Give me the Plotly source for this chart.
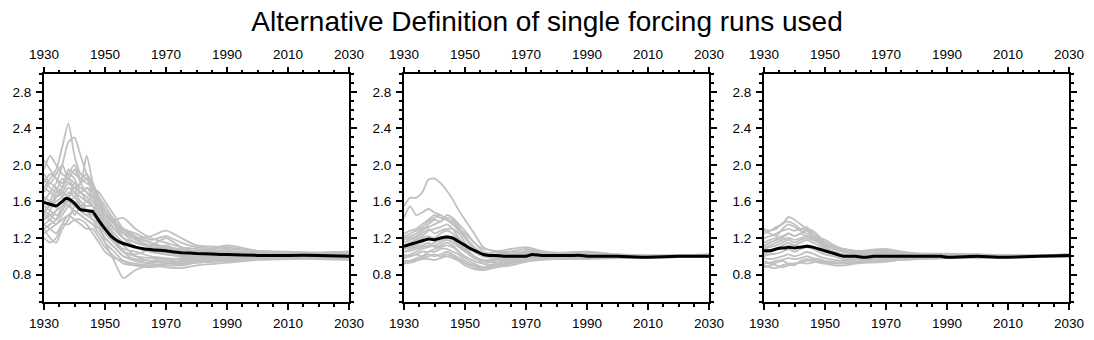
import plotly.graph_objects as go

TITLE = "Alternative Definition of single forcing runs used"
X_TICKS = [1930, 1950, 1970, 1990, 2010, 2030]
Y_TICKS = [0.8, 1.2, 1.6, 2.0, 2.4, 2.8]

MEMBER_YEARS = [1930, 1932, 1934, 1936, 1938, 1940, 1942, 1944, 1946, 1948, 1950, 1953,
                1956, 1960, 1965, 1970, 1975, 1980, 1990, 2000, 2010, 2020, 2030]

PANEL1_MEMBERS = [
    [1.75, 1.85, 1.95, 2.20, 2.45, 2.10, 1.90, 1.85, 1.70, 1.55, 1.40, 1.25, 1.15, 1.10, 1.05, 1.02, 1.00, 0.99, 1.00, 1.00, 1.01, 1.00, 1.00],
    [1.60, 1.70, 1.80, 2.00, 2.25, 2.30, 2.10, 1.90, 1.75, 1.60, 1.45, 1.30, 1.20, 1.15, 1.10, 1.08, 1.05, 1.04, 1.03, 1.02, 1.02, 1.01, 1.01],
    [1.95, 2.10, 2.00, 1.90, 1.85, 1.75, 1.80, 2.10, 1.80, 1.60, 1.50, 1.35, 1.25, 1.20, 1.22, 1.28, 1.20, 1.12, 1.10, 1.05, 1.04, 1.03, 1.04],
    [2.05, 1.95, 1.85, 1.80, 1.90, 1.85, 1.70, 1.75, 1.65, 1.50, 1.35, 1.20, 1.05, 1.00, 0.98, 0.97, 0.98, 1.00, 1.02, 1.02, 1.03, 1.04, 1.05],
    [1.40, 1.45, 1.50, 1.55, 1.70, 1.65, 1.55, 1.50, 1.45, 1.35, 1.15, 0.95, 0.76, 0.85, 0.90, 0.92, 0.95, 0.97, 0.98, 0.99, 1.00, 0.99, 0.98],
    [1.20, 1.15, 1.20, 1.35, 1.45, 1.50, 1.45, 1.40, 1.35, 1.25, 1.15, 1.05, 0.95, 0.90, 0.90, 0.88, 0.87, 0.90, 0.93, 0.96, 0.97, 0.97, 0.96],
    [1.30, 1.20, 1.15, 1.30, 1.40, 1.55, 1.60, 1.50, 1.40, 1.30, 1.20, 1.10, 1.00, 0.95, 0.92, 0.90, 0.90, 0.93, 0.95, 0.97, 0.98, 0.98, 0.97],
    [1.50, 1.55, 1.60, 1.65, 1.75, 1.70, 1.60, 1.55, 1.55, 1.45, 1.35, 1.25, 1.15, 1.10, 1.05, 1.02, 1.00, 1.00, 1.01, 1.01, 1.00, 1.00, 1.00],
    [1.70, 1.80, 1.75, 1.70, 1.65, 1.80, 1.75, 1.70, 1.60, 1.50, 1.40, 1.30, 1.25, 1.20, 1.15, 1.10, 1.08, 1.06, 1.05, 1.03, 1.02, 1.02, 1.02],
    [1.45, 1.40, 1.35, 1.45, 1.55, 1.60, 1.50, 1.45, 1.50, 1.55, 1.45, 1.40, 1.42, 1.30, 1.20, 1.15, 1.10, 1.08, 1.06, 1.04, 1.03, 1.02, 1.02],
    [1.65, 1.60, 1.55, 1.60, 1.65, 1.70, 1.65, 1.60, 1.65, 1.60, 1.50, 1.35, 1.20, 1.10, 1.05, 1.02, 1.01, 1.00, 1.00, 1.00, 1.00, 1.00, 0.99],
    [1.35, 1.40, 1.50, 1.60, 1.55, 1.50, 1.45, 1.40, 1.35, 1.30, 1.20, 1.10, 1.00, 0.97, 0.95, 0.93, 0.92, 0.94, 0.96, 0.97, 0.98, 0.99, 0.98],
    [1.85, 1.75, 1.70, 1.75, 1.95, 1.90, 1.85, 1.80, 1.75, 1.70, 1.60, 1.45, 1.30, 1.20, 1.10, 1.05, 1.03, 1.02, 1.02, 1.01, 1.01, 1.01, 1.01],
    [1.55, 1.50, 1.45, 1.50, 1.60, 1.55, 1.50, 1.45, 1.40, 1.35, 1.25, 1.15, 1.08, 1.05, 1.00, 0.98, 0.97, 0.98, 0.99, 1.00, 1.00, 1.00, 1.00],
    [1.25, 1.30, 1.35, 1.40, 1.45, 1.40, 1.35, 1.30, 1.30, 1.20, 1.10, 1.00, 0.92, 0.90, 0.88, 0.90, 0.91, 0.93, 0.95, 0.97, 0.97, 0.98, 0.97],
    [1.75, 1.70, 1.65, 1.70, 1.80, 1.75, 1.70, 1.75, 1.70, 1.60, 1.45, 1.30, 1.20, 1.10, 1.05, 1.04, 1.03, 1.02, 1.01, 1.01, 1.01, 1.01, 1.00],
    [1.40, 1.50, 1.65, 1.75, 1.85, 1.80, 1.70, 1.65, 1.55, 1.45, 1.30, 1.15, 1.05, 1.02, 1.08, 1.12, 1.05, 1.02, 1.04, 1.02, 1.03, 1.02, 1.03],
    [1.90, 1.80, 1.90, 2.00, 1.85, 1.95, 1.80, 1.70, 1.65, 1.55, 1.45, 1.38, 1.30, 1.25, 1.18, 1.22, 1.15, 1.10, 1.08, 1.06, 1.05, 1.04, 1.05],
    [1.30, 1.35, 1.40, 1.55, 1.60, 1.45, 1.55, 1.50, 1.45, 1.40, 1.30, 1.20, 1.12, 1.00, 0.95, 0.97, 0.93, 0.96, 0.98, 0.99, 0.98, 0.99, 0.99],
    [1.60, 1.55, 1.70, 1.85, 1.80, 1.75, 1.80, 1.85, 1.75, 1.65, 1.50, 1.38, 1.25, 1.15, 1.12, 1.20, 1.10, 1.05, 1.12, 1.06, 1.04, 1.03, 1.03],
    [1.50, 1.45, 1.40, 1.50, 1.65, 1.75, 1.55, 1.60, 1.55, 1.45, 1.40, 1.20, 1.05, 0.95, 0.93, 0.95, 0.94, 0.96, 0.97, 0.98, 0.99, 0.99, 0.98],
    [1.45, 1.60, 1.75, 1.65, 1.60, 1.65, 1.70, 1.60, 1.55, 1.50, 1.45, 1.35, 1.30, 1.22, 1.15, 1.08, 1.06, 1.04, 1.03, 1.02, 1.01, 1.01, 1.02],
    [1.80, 1.90, 1.85, 1.75, 1.90, 2.00, 1.85, 1.90, 1.80, 1.65, 1.55, 1.40, 1.28, 1.18, 1.12, 1.10, 1.07, 1.05, 1.04, 1.03, 1.02, 1.02, 1.01],
    [1.35, 1.30, 1.25, 1.35, 1.35, 1.40, 1.40, 1.35, 1.25, 1.15, 1.05, 0.98, 0.95, 0.92, 0.90, 0.92, 0.95, 0.95, 0.97, 0.98, 0.98, 0.98, 0.98],
]

PANEL2_MEMBERS = [
    [1.55, 1.64, 1.64, 1.70, 1.84, 1.85, 1.80, 1.72, 1.62, 1.50, 1.40, 1.25, 1.10, 1.05, 1.02, 1.02, 1.01, 1.00, 1.00, 1.00, 1.00, 1.00, 1.00],
    [1.42, 1.55, 1.45, 1.48, 1.52, 1.48, 1.45, 1.40, 1.35, 1.28, 1.20, 1.10, 1.02, 1.00, 1.00, 1.01, 1.00, 1.00, 1.00, 1.00, 1.00, 1.00, 1.00],
    [1.25, 1.28, 1.30, 1.35, 1.40, 1.45, 1.42, 1.40, 1.35, 1.30, 1.25, 1.15, 1.05, 1.02, 1.05, 1.08, 1.05, 1.03, 1.02, 1.01, 1.00, 1.00, 1.01],
    [1.20, 1.22, 1.25, 1.30, 1.32, 1.35, 1.38, 1.42, 1.40, 1.32, 1.22, 1.10, 1.00, 0.98, 1.00, 1.06, 1.04, 1.02, 1.04, 1.01, 1.00, 1.00, 1.00],
    [1.10, 1.12, 1.15, 1.20, 1.22, 1.20, 1.25, 1.28, 1.25, 1.18, 1.10, 1.00, 0.92, 0.90, 0.95, 1.00, 1.01, 1.02, 1.00, 1.00, 0.99, 1.00, 1.00],
    [0.95, 0.95, 0.98, 1.00, 1.02, 1.00, 1.02, 1.05, 1.02, 0.98, 0.92, 0.88, 0.85, 0.88, 0.92, 0.95, 0.97, 0.98, 0.99, 0.99, 0.99, 0.99, 0.99],
    [0.92, 0.93, 0.95, 0.97, 0.97, 0.96, 0.98, 1.00, 0.98, 0.95, 0.90, 0.86, 0.85, 0.90, 0.93, 0.96, 0.98, 0.98, 0.98, 0.98, 0.99, 0.99, 0.99],
    [1.05, 1.08, 1.10, 1.12, 1.15, 1.10, 1.12, 1.15, 1.12, 1.05, 1.00, 0.95, 0.92, 0.95, 0.97, 1.00, 1.00, 1.00, 1.01, 1.00, 1.00, 1.00, 1.00],
    [1.00, 1.02, 1.05, 1.08, 1.10, 1.12, 1.15, 1.18, 1.15, 1.10, 1.05, 0.98, 0.95, 0.97, 1.00, 1.02, 1.02, 1.01, 1.02, 1.00, 1.00, 1.00, 1.00],
    [1.15, 1.18, 1.20, 1.25, 1.30, 1.25, 1.28, 1.30, 1.30, 1.25, 1.15, 1.05, 1.00, 1.00, 1.02, 1.03, 1.03, 1.02, 1.03, 1.01, 1.00, 1.01, 1.01],
    [1.08, 1.10, 1.12, 1.15, 1.20, 1.18, 1.20, 1.22, 1.20, 1.15, 1.08, 1.00, 0.96, 0.96, 0.98, 1.00, 1.00, 0.99, 1.00, 0.99, 0.99, 1.00, 1.00],
    [1.12, 1.15, 1.18, 1.22, 1.28, 1.30, 1.32, 1.35, 1.30, 1.20, 1.12, 1.05, 1.02, 1.05, 1.08, 1.10, 1.06, 1.04, 1.05, 1.02, 1.01, 1.01, 1.02],
    [1.02, 1.00, 1.02, 1.05, 1.05, 1.08, 1.10, 1.12, 1.10, 1.05, 0.98, 0.92, 0.88, 0.90, 0.94, 0.97, 0.98, 0.99, 0.98, 0.99, 0.99, 0.99, 1.00],
    [1.18, 1.20, 1.22, 1.28, 1.35, 1.40, 1.38, 1.45, 1.42, 1.35, 1.28, 1.15, 1.08, 1.06, 1.05, 1.04, 1.03, 1.02, 1.05, 1.02, 1.01, 1.01, 1.02],
    [0.98, 1.00, 1.02, 1.00, 1.05, 1.05, 1.08, 1.08, 1.05, 1.02, 0.95, 0.90, 0.86, 0.88, 0.90, 0.94, 0.96, 0.97, 0.97, 0.98, 0.98, 0.99, 0.99],
    [1.22, 1.25, 1.28, 1.32, 1.38, 1.42, 1.45, 1.40, 1.38, 1.30, 1.20, 1.08, 1.02, 1.00, 1.02, 1.05, 1.03, 1.02, 1.03, 1.01, 1.00, 1.00, 1.01],
    [1.05, 1.06, 1.08, 1.10, 1.12, 1.15, 1.18, 1.20, 1.18, 1.12, 1.06, 1.00, 0.95, 0.93, 0.96, 0.99, 1.00, 1.00, 1.01, 1.00, 1.00, 1.00, 1.00],
    [0.93, 0.95, 0.96, 0.98, 1.00, 1.02, 1.00, 1.02, 1.00, 0.97, 0.93, 0.90, 0.88, 0.92, 0.96, 0.98, 0.99, 0.99, 0.99, 0.99, 0.99, 0.99, 1.00],
]

PANEL3_MEMBERS = [
    [1.30, 1.28, 1.32, 1.35, 1.43, 1.40, 1.35, 1.30, 1.28, 1.22, 1.15, 1.10, 1.06, 1.04, 1.05, 1.06, 1.04, 1.03, 1.02, 1.01, 1.01, 1.01, 1.02],
    [1.25, 1.28, 1.30, 1.36, 1.38, 1.35, 1.30, 1.32, 1.25, 1.20, 1.12, 1.08, 1.05, 1.05, 1.07, 1.08, 1.05, 1.03, 1.03, 1.02, 1.01, 1.01, 1.01],
    [1.20, 1.22, 1.25, 1.28, 1.30, 1.28, 1.30, 1.28, 1.25, 1.18, 1.12, 1.08, 1.05, 1.02, 1.03, 1.05, 1.04, 1.02, 1.02, 1.01, 1.00, 1.01, 1.02],
    [0.90, 0.88, 0.87, 0.90, 0.92, 0.92, 0.93, 0.95, 0.95, 0.93, 0.92, 0.90, 0.90, 0.92, 0.94, 0.95, 0.96, 0.97, 0.98, 0.98, 0.99, 0.99, 0.99],
    [0.95, 0.92, 0.90, 0.88, 0.90, 0.92, 0.93, 0.92, 0.93, 0.95, 0.93, 0.92, 0.92, 0.93, 0.93, 0.94, 0.96, 0.97, 0.98, 0.99, 0.99, 0.99, 0.99],
    [1.00, 1.02, 1.03, 1.05, 1.08, 1.05, 1.08, 1.10, 1.08, 1.05, 1.02, 1.00, 0.97, 0.97, 0.98, 0.98, 0.99, 0.99, 1.00, 0.99, 0.99, 1.00, 1.00],
    [1.10, 1.12, 1.15, 1.18, 1.20, 1.18, 1.20, 1.22, 1.20, 1.15, 1.10, 1.05, 1.02, 1.00, 1.00, 1.02, 1.02, 1.01, 1.01, 1.00, 1.00, 1.00, 1.00],
    [1.05, 1.05, 1.08, 1.10, 1.12, 1.12, 1.15, 1.18, 1.15, 1.12, 1.08, 1.05, 1.02, 1.00, 1.00, 1.00, 1.01, 1.00, 1.00, 1.00, 0.99, 1.00, 1.00],
    [0.98, 0.97, 0.98, 1.00, 1.02, 1.00, 1.02, 1.05, 1.03, 1.00, 0.98, 0.96, 0.95, 0.96, 0.97, 0.98, 0.98, 0.99, 0.99, 0.99, 0.99, 0.99, 1.00],
    [1.15, 1.18, 1.20, 1.22, 1.25, 1.22, 1.25, 1.28, 1.22, 1.18, 1.15, 1.10, 1.08, 1.06, 1.05, 1.04, 1.03, 1.02, 1.01, 1.01, 1.00, 1.00, 1.01],
    [1.02, 1.05, 1.08, 1.12, 1.15, 1.12, 1.10, 1.12, 1.10, 1.08, 1.05, 1.02, 1.00, 0.98, 0.98, 0.99, 1.00, 1.00, 1.00, 1.00, 1.00, 1.00, 1.00],
    [0.92, 0.93, 0.95, 0.96, 0.98, 0.97, 0.98, 1.00, 0.98, 0.97, 0.95, 0.94, 0.93, 0.94, 0.95, 0.96, 0.97, 0.98, 0.99, 0.99, 0.99, 1.00, 0.99],
    [1.28, 1.25, 1.22, 1.30, 1.35, 1.32, 1.28, 1.25, 1.22, 1.20, 1.18, 1.12, 1.08, 1.06, 1.06, 1.07, 1.05, 1.03, 1.02, 1.02, 1.01, 1.01, 1.02],
    [0.88, 0.90, 0.93, 0.95, 0.92, 0.90, 0.95, 0.97, 0.96, 0.95, 0.94, 0.93, 0.93, 0.94, 0.95, 0.96, 0.97, 0.98, 0.98, 0.99, 0.99, 0.99, 0.99],
    [1.12, 1.15, 1.18, 1.20, 1.25, 1.22, 1.25, 1.22, 1.20, 1.16, 1.12, 1.08, 1.05, 1.03, 1.02, 1.03, 1.02, 1.01, 1.01, 1.01, 1.00, 1.00, 1.01],
    [1.08, 1.10, 1.12, 1.15, 1.18, 1.15, 1.18, 1.20, 1.18, 1.15, 1.12, 1.10, 1.06, 1.04, 1.03, 1.04, 1.03, 1.02, 1.01, 1.00, 1.00, 1.00, 1.00],
]

MEAN_YEARS = [1930, 1932, 1934, 1936, 1937, 1938, 1940, 1942, 1944, 1946, 1948, 1950, 1952, 1954, 1956,
              1958, 1960, 1963, 1966, 1970, 1972, 1975, 1980, 1985, 1988, 1990, 2000, 2008, 2010, 2020, 2030]
PANEL1_MEAN = [1.59, 1.57, 1.55, 1.60, 1.63, 1.63, 1.58, 1.51, 1.50, 1.49, 1.39, 1.30, 1.22, 1.17, 1.14,
               1.12, 1.10, 1.08, 1.07, 1.06, 1.05, 1.04, 1.03, 1.025, 1.02, 1.02, 1.01, 1.01, 1.01, 1.01, 1.00]
PANEL2_MEAN = [1.11, 1.13, 1.15, 1.17, 1.18, 1.19, 1.18, 1.20, 1.21, 1.20, 1.16, 1.12, 1.08, 1.05, 1.02,
               1.01, 1.01, 1.00, 1.00, 1.00, 1.02, 1.01, 1.01, 1.01, 1.01, 1.00, 1.00, 0.99, 0.99, 1.00, 1.00]
PANEL3_MEAN = [1.06, 1.06, 1.08, 1.09, 1.09, 1.10, 1.09, 1.10, 1.11, 1.10, 1.08, 1.06, 1.04, 1.02, 1.00,
               1.00, 1.00, 0.99, 1.00, 1.00, 1.00, 1.00, 1.00, 1.00, 1.00, 0.99, 1.00, 0.99, 0.99, 1.00, 1.01]

W, H = 1094, 340
PANEL_LEFT_PX = [44, 404, 764]
PANEL_WIDTH_PX = 305
PLOT_TOP_PX, PLOT_BOTTOM_PX = 73.5, 302

FONT = "Liberation Sans, Arial, Helvetica, sans-serif"
GRAY = "#c0c0c0"

fig = go.Figure()
panels = [(PANEL1_MEMBERS, PANEL1_MEAN), (PANEL2_MEMBERS, PANEL2_MEAN), (PANEL3_MEMBERS, PANEL3_MEAN)]

ydom = [1 - PLOT_BOTTOM_PX / H, 1 - PLOT_TOP_PX / H]
layout_axes = {}
for i, (members, mean) in enumerate(panels):
    n = i + 1
    xb = "x" if n == 1 else f"x{n}"
    yb = "y" if n == 1 else f"y{n}"
    xt = f"x{n + 3}"
    for m in members:
        fig.add_trace(go.Scatter(x=MEMBER_YEARS, y=m, xaxis=xb, yaxis=yb, mode="lines",
                                 line=dict(color=GRAY, width=1.8, shape="spline", smoothing=0.6),
                                 showlegend=False, hoverinfo="skip"))
    fig.add_trace(go.Scatter(x=MEAN_YEARS, y=mean, xaxis=xb, yaxis=yb, mode="lines",
                             line=dict(color="black", width=3, shape="spline", smoothing=0.3),
                             showlegend=False, hoverinfo="skip"))
    # invisible trace so the top axis is drawn
    fig.add_trace(go.Scatter(x=[1930], y=[None], xaxis=xt, yaxis=yb, mode="lines",
                             showlegend=False, hoverinfo="skip"))

    left = PANEL_LEFT_PX[i] / W
    right = (PANEL_LEFT_PX[i] + PANEL_WIDTH_PX) / W
    common_x = dict(range=[1930, 2030], tickvals=X_TICKS, ticks="outside", ticklen=6, tickwidth=2,
                    tickcolor="black", showgrid=False, zeroline=False, ticklabelstandoff=2,
                    automargin=False,
                    tickfont=dict(family=FONT, size=13.5, color="black"),
                    minor=dict(dtick=5, tick0=1930, ticks="outside", ticklen=3, tickwidth=1.5,
                               tickcolor="black", showgrid=False))
    key_b = "xaxis" if n == 1 else f"xaxis{n}"
    layout_axes[key_b] = dict(common_x, domain=[left, right], anchor=yb, side="bottom",
                              showline=True, linewidth=2, linecolor="black", mirror=True)
    layout_axes[f"xaxis{n + 3}"] = dict(common_x, domain=[left, right], anchor=yb, side="top",
                                        overlaying=xb, showline=False)
    key_y = "yaxis" if n == 1 else f"yaxis{n}"
    layout_axes[key_y] = dict(domain=ydom, anchor=xb, range=[0.5, 3.0], tickvals=Y_TICKS,
                              ticktext=[f"{v:.1f}" for v in Y_TICKS],
                              ticks="outside", ticklen=6, tickwidth=2, tickcolor="black",
                              showline=True, linewidth=2, linecolor="black", mirror="ticks",
                              showgrid=False, zeroline=False, ticklabelstandoff=2, automargin=False,
                              tickfont=dict(family=FONT, size=13.5, color="black"),
                              minor=dict(dtick=0.1, tick0=0.5, ticks="outside", ticklen=3, tickwidth=1.5,
                                         tickcolor="black", showgrid=False))

fig.update_layout(
    width=W, height=H,
    margin=dict(l=0, r=0, t=0, b=0, autoexpand=False),
    paper_bgcolor="white", plot_bgcolor="white",
    title=dict(text=TITLE, x=0.5, xanchor="center", y=1 - 21 / H, yanchor="middle",
               font=dict(family=FONT, size=28, color="black")),
    **layout_axes,
)

fig.write_html("out.html")
